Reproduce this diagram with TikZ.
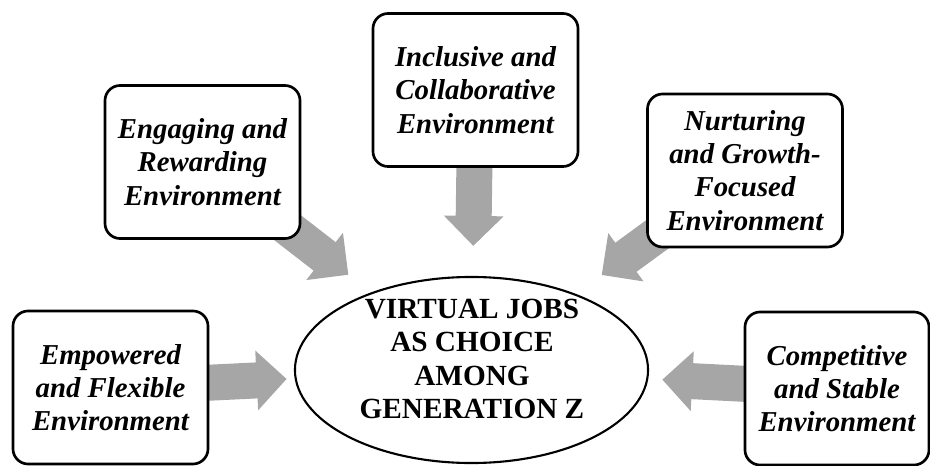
\documentclass[tikz,border=0pt]{standalone}
\usepackage{fontspec}
\setmainfont{Liberation Serif}
\usetikzlibrary{shapes.geometric,arrows.meta,backgrounds}
\definecolor{arrowgray}{RGB}{166,166,166}

\begin{document}
\begin{tikzpicture}[x=0.025cm,y=-0.025cm,
 factor/.style={draw, line width=1.9pt, rounded corners=0.38cm, fill=white,
   align=center, inner sep=0pt, minimum width=4.875cm, minimum height=3.825cm,
   font=\fontsize{20.5}{23.6}\selectfont\bfseries\itshape},
 choice/.style={draw, ellipse, line width=1.5pt, fill=white, inner sep=0pt,
   minimum width=8.825cm, minimum height=4.65cm},
 choicetext/.style={align=center, inner sep=0pt,
   font=\fontsize{20.8}{23.6}\selectfont\bfseries},
 push/.style={draw=arrowgray, line width=0.9cm, shorten <=-0.6cm,
   -{Triangle[width=1.45cm 0 1, length=0.75cm 0 1]}}]

\useasboundingbox (0,0) rectangle (930,466);

\node[choice] (job) at (471.5,370) {};
\node[choicetext] (jobtxt) at (472,359) {VIRTUAL JOBS\\AS CHOICE\\AMONG\\GENERATION Z};

\node[factor, minimum width=5.125cm] (incl) at (475.5,90) {Inclusive and\\Collaborative\\Environment};
\node[factor] (eng) at (202.5,162) {Engaging and\\Rewarding\\Environment};
\node[factor] (nurt) at (745,170.5) {Nurturing\\and Growth-\\Focused\\Environment};
\node[factor] (emp) at (110.5,387.5) {Empowered\\and Flexible\\Environment};
\node[factor, minimum width=4.6cm] (comp) at (837,388.5) {Competitive\\and Stable\\Environment};

\begin{scope}[on background layer]
 \draw[push, shorten >=0.72cm] (eng) -- (job);
 \draw[push, shorten >=0.75cm] (incl) -- (job);
 \draw[push, shorten >=0.8cm] (nurt) -- (job);
 \draw[push, shorten >=0.2cm] (emp) -- (job);
 \draw[push, shorten >=0.35cm] (comp) -- (job);
\end{scope}

\end{tikzpicture}
\end{document}
